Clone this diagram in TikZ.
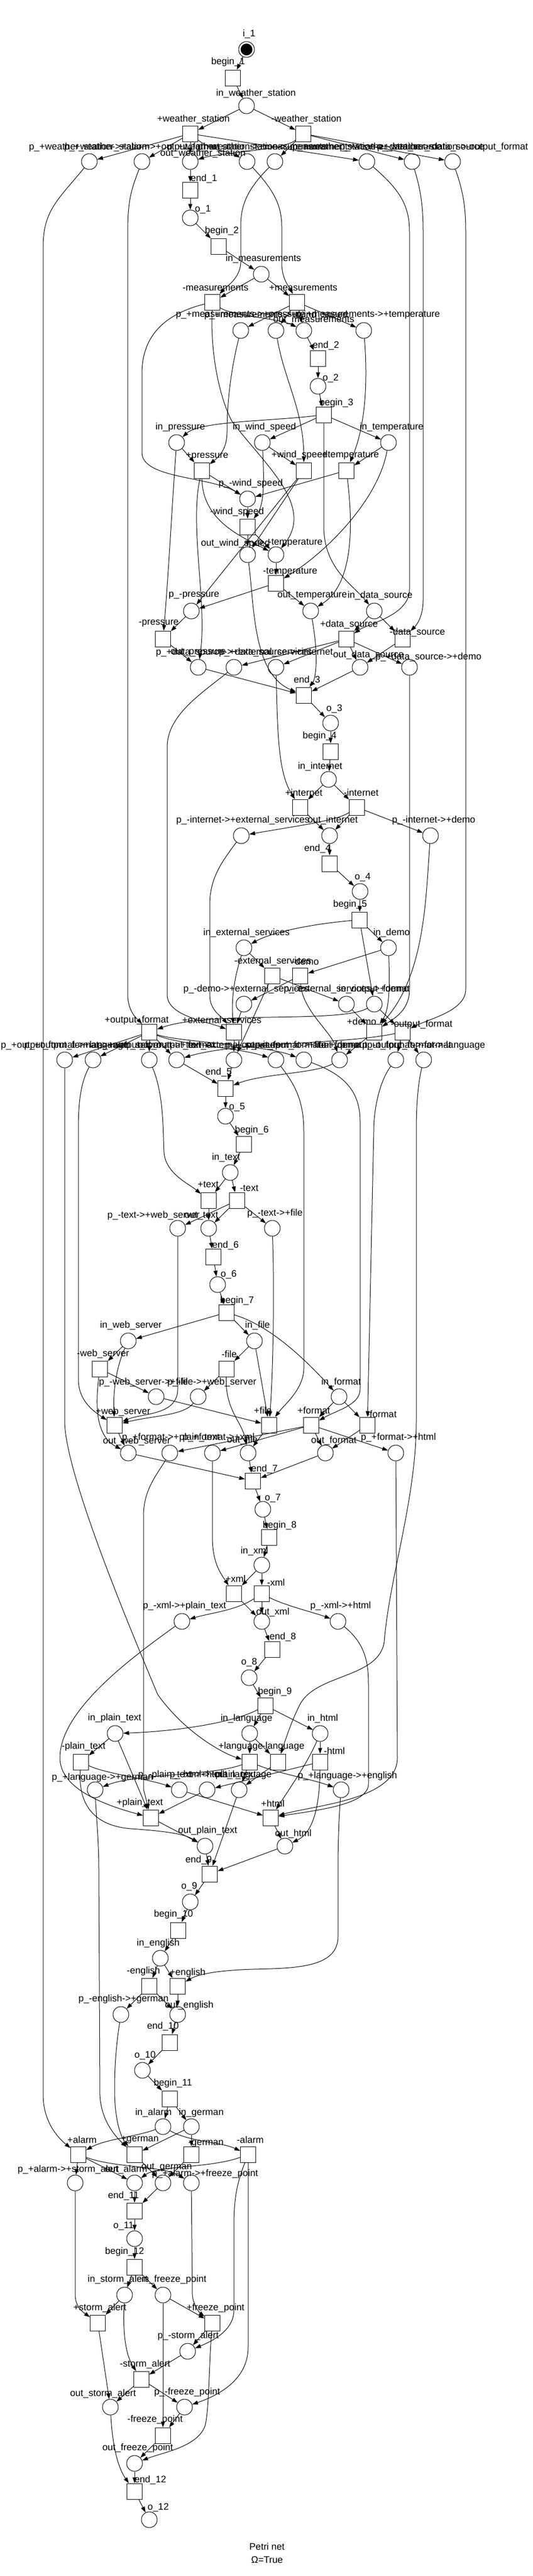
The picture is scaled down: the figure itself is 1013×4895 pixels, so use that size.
\documentclass[tikz,border=0pt]{standalone}
\usepackage{fontspec}
\setmainfont{Liberation Sans}
\usetikzlibrary{arrows.meta}
\tikzset{
  place/.style={circle,draw,line width=0.5pt,minimum size=15pt,inner sep=0pt},
  trans/.style={rectangle,draw,line width=0.5pt,minimum width=14.5pt,minimum height=15pt,inner sep=0pt},
  lbl/.style={font=\fontsize{9}{10}\selectfont,inner sep=0pt},
  flow/.style={draw,line width=0.5pt,-{Triangle[length=5.5pt,width=3.8pt]}},
}
\newcommand{\mkplace}[6]{\node[place] (#1) at (#2,#3) {}; \node[lbl] (#1l) at (#4,#5) {#6};}
\newcommand{\mktrans}[6]{\node[trans] (#1) at (#2,#3) {}; \node[lbl] (#1l) at (#4,#5) {#6};}
\begin{document}
\begin{tikzpicture}[x=0.5pt,y=-0.5pt]
\fill[white] (0,0) rectangle (1013,4895);
\useasboundingbox (0,0) rectangle (1013,4895);
% ---------------- places ----------------
\mkplace{i1}{469}{94}{474}{65}{i\_1}
\fill (i1.center) circle (5.6pt);
\mkplace{inws}{469}{201}{487}{178}{in\_weather\_station}
\mkplace{Pa}{170}{307}{170}{280}{p\_+weather\_station->+alarm}
\mkplace{Pb}{270}{307}{270}{280}{p\_+weather\_station->+output\_format}
\mkplace{outws}{362}{307}{386}{292}{out\_weather\_station}
\mkplace{Pc}{470}{307}{470}{280}{p\_+weather\_station->+measurements}
\mkplace{Pd}{523}{307}{523}{280}{p\_-weather\_station->-measurements}
\mkplace{Pe}{698}{307}{698}{280}{p\_+weather\_station->+data\_source}
\mkplace{Pf}{784}{307}{784}{280}{p\_-weather\_station->-data\_source}
\mkplace{Pg}{861}{307}{861}{280}{p\_-weather\_station->-output\_format}
\mkplace{o1}{362}{414}{386}{398}{o\_1}
\mkplace{inmeas}{497}{521}{501}{492}{in\_measurements}
\mkplace{pmP}{458}{628}{458}{599}{p\_+measurements->+pressure}
\mkplace{pmW}{525}{628}{525}{599}{p\_+measurements->+wind\_speed}
\mkplace{outmeas}{578}{628}{597}{608}{out\_measurements}
\mkplace{pmT}{692}{628}{700}{599}{p\_+measurements->+temperature}
\mkplace{o2}{605}{734}{629}{719}{o\_2}
\mkplace{inpress}{336}{841}{343}{812}{in\_pressure}
\mkplace{inwind}{499}{841}{503}{812}{in\_wind\_speed}
\mkplace{intemp}{739}{841}{745}{812}{in\_temperature}
\mkplace{pmwind}{471}{948}{477}{919}{p\_-wind\_speed}
\mkplace{outwind}{471}{1054}{448}{1033}{out\_wind\_speed}
\mkplace{pmtemp}{525}{1054}{552}{1032}{p\_-temperature}
\mkplace{pmpress}{364}{1161}{369}{1132}{p\_-pressure}
\mkplace{outtemp}{591}{1161}{594}{1132}{out\_temperature}
\mkplace{inds}{712}{1161}{723}{1132}{in\_data\_source}
\mkplace{outpress}{377}{1268}{377}{1240}{out\_pressure}
\mkplace{pdsExt}{445}{1268}{445}{1240}{p\_+data\_source->+external\_services}
\mkplace{pdsInt}{525}{1268}{525}{1240}{p\_+data\_source->+internet}
\mkplace{outds}{685}{1268}{701}{1245}{out\_data\_source}
\mkplace{pdsDemo}{779}{1268}{815}{1249}{p\_+data\_source->+demo}
\mkplace{o3}{629}{1374}{636}{1347}{o\_3}
\mkplace{inint}{625}{1481}{609}{1457}{in\_internet}
\mkplace{pintExt}{459}{1588}{462}{1559}{p\_-internet->+external\_services}
\mkplace{outint}{627}{1588}{633}{1559}{out\_internet}
\mkplace{pintDemo}{819}{1588}{825}{1559}{p\_-internet->+demo}
\mkplace{o4}{685}{1694}{690}{1667}{o\_4}
\mkplace{inext}{464}{1801}{469}{1773}{in\_external\_services}
\mkplace{indemo}{739}{1801}{745}{1773}{in\_demo}
\mkplace{pdemoExt}{464}{1908}{468}{1880}{p\_-demo->+external\_services}
\mkplace{pextDemo}{659}{1908}{659}{1880}{p\_-external\_services->+demo}
\mkplace{inof}{712}{1908}{712}{1880}{in\_output\_format}
\mkplace{qA}{123}{2014}{123}{1987}{p\_+output\_format->+language}
\mkplace{qB}{177}{2014}{177}{1987}{p\_+output\_format->+web\_server}
\mkplace{qC}{284}{2014}{284}{1987}{p\_+output\_format->+text}
\mkplace{qD}{336}{2014}{336}{1987}{out\_output\_format}
\mkplace{qE}{445}{2014}{445}{1987}{out\_external\_services}
\mkplace{qF}{525}{2014}{525}{1987}{p\_+output\_format->+file}
\mkplace{qG}{578}{2014}{578}{1987}{p\_+output\_format->+format}
\mkplace{qH}{646}{2014}{646}{1987}{out\_demo}
\mkplace{qI}{753}{2014}{753}{1987}{p\_-output\_format->-format}
\mkplace{qJ}{806}{2014}{806}{1987}{p\_-output\_format->-language}
\mkplace{o5}{429}{2121}{451}{2104}{o\_5}
\mkplace{intext}{438}{2228}{430}{2200}{in\_text}
\mkplace{ptextWeb}{338}{2334}{292}{2310}{p\_-text->+web\_server}
\mkplace{outtext}{397}{2334}{383}{2310}{out\_text}
\mkplace{ptextFile}{518}{2334}{523}{2306}{p\_-text->+file}
\mkplace{o6}{414}{2441}{435}{2422}{o\_6}
\mkplace{inweb}{244}{2548}{249}{2519}{in\_web\_server}
\mkplace{infile}{484}{2548}{490}{2519}{in\_file}
\mkplace{inform}{645}{2654}{649}{2627}{in\_format}
\mkplace{pwebFile}{297}{2654}{273}{2627}{p\_-web\_server->+file}
\mkplace{pfileWeb}{377}{2654}{403}{2627}{p\_-file->+web\_server}
\mkplace{outweb}{244}{2761}{260}{2739}{out\_web\_server}
\mkplace{pfPlain}{323}{2761}{325}{2732}{p\_+format->+plain\_text}
\mkplace{pfXml}{404}{2761}{416}{2732}{p\_+format->+xml}
\mkplace{outfile}{472}{2761}{461}{2737}{out\_file}
\mkplace{outform}{619}{2761}{635}{2738}{out\_format}
\mkplace{pfHtml}{753}{2761}{758}{2732}{p\_+format->+html}
\mkplace{o7}{500}{2868}{519}{2847}{o\_7}
\mkplace{inxml}{498}{2974}{484}{2948}{in\_xml}
\mkplace{pxPlain}{346}{3081}{351}{3052}{p\_-xml->+plain\_text}
\mkplace{outxml}{498}{3081}{519}{3064}{out\_xml}
\mkplace{pxHtml}{643}{3081}{648}{3052}{p\_-xml->+html}
\mkplace{o8}{474}{3188}{474}{3159}{o\_8}
\mkplace{inplain}{219}{3294}{218}{3265}{in\_plain\_text}
\mkplace{inlang}{475}{3294}{469}{3266}{in\_language}
\mkplace{inhtml}{609}{3294}{614}{3266}{in\_html}
\mkplace{plGerman}{181}{3401}{195}{3378}{p\_+language->+german}
\mkplace{pptHtml}{341}{3401}{345}{3373}{p\_-plain\_text->+html}
\mkplace{phPlain}{394}{3401}{405}{3373}{p\_-html->+plain\_text}
\mkplace{outlang}{455}{3401}{462}{3373}{out\_language}
\mkplace{plEnglish}{649}{3401}{661}{3375}{p\_+language->+english}
\mkplace{outplain}{390}{3508}{395}{3479}{out\_plain\_text}
\mkplace{outhtml}{542}{3508}{558}{3485}{out\_html}
\mkplace{o9}{362}{3614}{360}{3585}{o\_9}
\mkplace{ineng}{305}{3721}{301}{3693}{in\_english}
\mkplace{peGerman}{230}{3828}{235}{3799}{p\_-english->+german}
\mkplace{outeng}{338}{3828}{360}{3811}{out\_english}
\mkplace{o10}{271}{3934}{276}{3906}{o\_10}
\mkplace{inalarm}{310}{4041}{292}{4015}{in\_alarm}
\mkplace{ingerman}{364}{4041}{383}{4015}{in\_german}
\mkplace{paStorm}{143}{4148}{130}{4123}{p\_+alarm->+storm\_alert}
\mkplace{outalarm}{256}{4148}{240}{4123}{out\_alarm}
\mkplace{outgerman}{310}{4148}{317}{4118}{out\_german}
\mkplace{paFreeze}{364}{4148}{390}{4131}{p\_+alarm->+freeze\_point}
\mkplace{o11}{256}{4254}{235}{4230}{o\_11}
\mkplace{instorm}{237}{4361}{224}{4332}{in\_storm\_alert}
\mkplace{infreeze}{310}{4361}{331}{4332}{in\_freeze\_point}
\mkplace{pmStorm}{357}{4468}{358}{4439}{p\_-storm\_alert}
\mkplace{outstorm}{210}{4574}{196}{4549}{out\_storm\_alert}
\mkplace{pmFreeze}{351}{4574}{356}{4546}{p\_-freeze\_point}
\mkplace{outfreeze}{256}{4681}{262}{4652}{out\_freeze\_point}
\mkplace{o12}{284}{4788}{301}{4765}{o\_12}
% ---------------- transitions ----------------
\mktrans{b1}{443}{148}{434}{118}{begin\_1}
\mktrans{tPws}{362}{254}{368}{227}{+weather\_station}
\mktrans{tMws}{577}{254}{583}{227}{-weather\_station}
\mktrans{e1}{362}{361}{388}{340}{end\_1}
\mktrans{b2}{416}{468}{422}{439}{begin\_2}
\mktrans{tMmeas}{404}{574}{410}{547}{-measurements}
\mktrans{tPmeas}{565}{574}{577}{547}{+measurements}
\mktrans{e2}{605}{681}{620}{657}{end\_2}
\mktrans{b3}{616}{788}{640}{766}{begin\_3}
\mktrans{tPpress}{384}{894}{394}{867}{+pressure}
\mktrans{tPwind}{578}{894}{570}{865}{+wind\_speed}
\mktrans{tPtemp}{659}{894}{667}{866}{+temperature}
\mktrans{tMwind}{471}{1001}{451}{973}{-wind\_speed}
\mktrans{tMtemp}{525}{1108}{552}{1087}{-temperature}
\mktrans{tMpress}{310}{1214}{302}{1185}{-pressure}
\mktrans{tPds}{659}{1214}{664}{1187}{+data\_source}
\mktrans{tMds}{766}{1214}{794}{1202}{-data\_source}
\mktrans{e3}{578}{1321}{584}{1293}{end\_3}
\mktrans{b4}{629}{1428}{608}{1399}{begin\_4}
\mktrans{tPint}{571}{1534}{578}{1506}{+internet}
\mktrans{tMint}{679}{1534}{687}{1506}{-internet}
\mktrans{e4}{627}{1641}{604}{1613}{end\_4}
\mktrans{b5}{684}{1748}{666}{1719}{begin\_5}
\mktrans{tMext}{518}{1854}{519}{1827}{-external\_services}
\mktrans{tMdemo}{571}{1854}{581}{1827}{-demo}
\mktrans{tPof}{284}{1961}{260}{1939}{+output\_format}
\mktrans{tPext}{445}{1961}{422}{1940}{+external\_services}
\mktrans{tPdemo}{712}{1961}{688}{1941}{+demo}
\mktrans{tMof}{766}{1961}{802}{1947}{-output\_format}
\mktrans{e5}{429}{2068}{416}{2038}{end\_5}
\mktrans{b6}{464}{2174}{479}{2148}{begin\_6}
\mktrans{tPtext}{397}{2281}{396}{2251}{+text}
\mktrans{tMtext}{451}{2281}{474}{2258}{-text}
\mktrans{e6}{406}{2388}{429}{2367}{end\_6}
\mktrans{b7}{431}{2494}{451}{2472}{begin\_7}
\mktrans{tMweb}{190}{2601}{196}{2573}{-web\_server}
\mktrans{tMfile}{431}{2601}{436}{2573}{-file}
\mktrans{tPweb}{218}{2708}{234}{2683}{+web\_server}
\mktrans{tPfile}{512}{2708}{500}{2680}{+file}
\mktrans{tPform}{592}{2708}{597}{2680}{+format}
\mktrans{tMform}{699}{2708}{726}{2687}{-format}
\mktrans{e7}{481}{2814}{503}{2792}{end\_7}
\mktrans{b8}{512}{2921}{532}{2899}{begin\_8}
\mktrans{tPxml}{445}{3028}{448}{3000}{+xml}
\mktrans{tMxml}{498}{3028}{525}{3007}{-xml}
\mktrans{e8}{518}{3134}{538}{3111}{end\_8}
\mktrans{b9}{505}{3241}{523}{3215}{begin\_9}
\mktrans{tMplain}{154}{3348}{159}{3319}{-plain\_text}
\mktrans{tPlang}{475}{3348}{458}{3319}{+language}
\mktrans{tMlang}{529}{3348}{539}{3319}{-language}
\mktrans{tMhtml}{609}{3348}{636}{3327}{-html}
\mktrans{tPplain}{287}{3454}{266}{3426}{+plain\_text}
\mktrans{tPhtml}{515}{3454}{519}{3427}{+html}
\mktrans{e9}{399}{3561}{378}{3535}{end\_9}
\mktrans{b10}{339}{3668}{330}{3638}{begin\_10}
\mktrans{tMeng}{284}{3774}{273}{3746}{-english}
\mktrans{tPeng}{338}{3774}{357}{3749}{+english}
\mktrans{e10}{323}{3881}{310}{3851}{end\_10}
\mktrans{b11}{323}{3988}{329}{3959}{begin\_11}
\mktrans{tPalarm}{149}{4094}{156}{4066}{+alarm}
\mktrans{tPgerman}{256}{4094}{266}{4066}{+german}
\mktrans{tMgerman}{364}{4094}{392}{4073}{-german}
\mktrans{tMalarm}{472}{4094}{476}{4066}{-alarm}
\mktrans{e11}{256}{4201}{235}{4173}{end\_11}
\mktrans{b12}{256}{4308}{237}{4279}{begin\_12}
\mktrans{tPstorm}{186}{4414}{190}{4386}{+storm\_alert}
\mktrans{tPfreeze}{404}{4414}{410}{4386}{+freeze\_point}
\mktrans{tMstorm}{269}{4521}{276}{4493}{-storm\_alert}
\mktrans{tMfreeze}{310}{4628}{295}{4598}{-freeze\_point}
\mktrans{e12}{256}{4734}{286}{4713}{end\_12}
\node[lbl] (title1) at (508,4839) {Petri net};
\node[lbl] (title2) at (508,4864) {Ω=True};
% ---------------- arcs: weather station ----------------
\draw[flow] (i1) -- (b1);
\draw[flow] (b1) -- (inws);
\draw[flow] (inws) -- (tPws);
\draw[flow] (inws) -- (tMws);
\draw[flow] (tPws) -- (Pa);
\draw[flow] (tPws) -- (Pb);
\draw[flow] (tPws) -- (outws);
\draw[flow] (tPws) .. controls (400,285) and (440,290) .. (Pc);
\draw[flow] (tPws) -- (Pe);
\draw[flow] (tMws) .. controls (540,285) and (420,290) .. (outws);
\draw[flow] (tMws) -- (Pd);
\draw[flow] (tMws) -- (Pf);
\draw[flow] (tMws) -- (Pg);
\draw[flow] (outws) -- (e1);
\draw[flow] (e1) -- (o1);
\draw[flow] (Pa) .. controls (110,380) and (82,400) .. (82,470) -- (82,3980) .. controls (82,4040) and (120,4070) .. (tPalarm);
\draw[flow] (Pb) .. controls (250,360) and (243,380) .. (243,440) -- (243,1890) .. controls (243,1925) and (265,1940) .. (tPof);
\draw[flow] (Pc) .. controls (520,360) and (536,390) .. (536,430) -- (536,500) .. controls (536,530) and (550,545) .. (tPmeas);
\draw[flow] (Pd) .. controls (470,360) and (458,390) .. (458,430) -- (458,500) .. controls (456,530) and (430,545) .. (tMmeas);
\draw[flow] (Pe) .. controls (760,360) and (779,390) .. (779,440) -- (779,1120) .. controls (779,1170) and (700,1185) .. (tPds);
\draw[flow] (Pf) .. controls (800,360) and (805,390) .. (805,440) -- (805,1140) .. controls (805,1180) and (785,1195) .. (tMds);
\draw[flow] (Pg) .. controls (880,360) and (886,390) .. (886,440) -- (886,1880) .. controls (886,1920) and (820,1935) .. (tMof);
% ---------------- measurements ----------------
\draw[flow] (o1) -- (b2);
\draw[flow] (b2) -- (inmeas);
\draw[flow] (inmeas) -- (tMmeas);
\draw[flow] (inmeas) -- (tPmeas);
\draw[flow] (tPmeas) -- (pmP);
\draw[flow] (tPmeas) -- (pmW);
\draw[flow] (tPmeas) -- (outmeas);
\draw[flow] (tPmeas) -- (pmT);
\draw[flow] (tMmeas) .. controls (440,600) and (530,605) .. (outmeas);
\draw[flow] (outmeas) -- (e2);
\draw[flow] (e2) -- (o2);
\draw[flow] (o2) -- (b3);
\draw[flow] (pmP) .. controls (440,700) and (432,760) .. (432,820) .. controls (432,850) and (420,865) .. (tPpress);
\draw[flow] (pmW) .. controls (540,720) and (578,780) .. (tPwind);
\draw[flow] (pmT) .. controls (698,700) and (700,800) .. (tPtemp);
\draw[flow] (tMmeas) .. controls (300,600) and (270,650) .. (270,710) -- (270,860) .. controls (270,910) and (400,905) .. (pmwind);
\draw[flow] (tMmeas) .. controls (400,680) and (420,760) .. (441,800) .. controls (500,880) and (600,960) .. (pmtemp);
% ---------------- pressure / wind / temperature ----------------
\draw[flow] (b3) .. controls (520,800) and (380,800) .. (inpress);
\draw[flow] (b3) -- (inwind);
\draw[flow] (b3) -- (intemp);
\draw[flow] (b3) -- (616,1000) .. controls (616,1080) and (670,1110) .. (inds);
\draw[flow] (inpress) -- (tPpress);
\draw[flow] (inpress) .. controls (328,950) and (320,1100) .. (tMpress);
\draw[flow] (tPpress) -- (pmwind);
\draw[flow] (tPpress) .. controls (385,990) and (460,1020) .. (pmtemp);
\draw[flow] (tPpress) .. controls (360,1000) and (395,1150) .. (outpress);
\draw[flow] (pmpress) -- (tMpress);
\draw[flow] (tMpress) -- (outpress);
\draw[flow] (inwind) -- (tPwind);
\draw[flow] (inwind) .. controls (503,920) and (502,960) .. (tMwind);
\draw[flow] (pmwind) -- (tMwind);
\draw[flow] (tMwind) -- (outwind);
\draw[flow] (tMwind) -- (pmtemp);
\draw[flow] (tPwind) -- (outwind);
\draw[flow] (tPwind) -- (pmpress);
\draw[flow] (intemp) -- (tPtemp);
\draw[flow] (intemp) .. controls (720,950) and (620,1050) .. (tMtemp);
\draw[flow] (tPtemp) -- (pmwind);
\draw[flow] (tPtemp) .. controls (672,1000) and (672,1110) .. (outtemp);
\draw[flow] (pmtemp) -- (tMtemp);
\draw[flow] (tMtemp) -- (outtemp);
\draw[flow] (tMtemp) -- (pmpress);
% ---------------- data source ----------------
\draw[flow] (inds) -- (tPds);
\draw[flow] (inds) -- (tMds);
\draw[flow] (tPds) -- (pdsExt);
\draw[flow] (tPds) -- (pdsInt);
\draw[flow] (tPds) -- (outds);
\draw[flow] (tPds) -- (pdsDemo);
\draw[flow] (tMds) -- (outds);
\draw[flow] (outpress) -- (e3);
\draw[flow] (outds) -- (e3);
\draw[flow] (outwind) .. controls (484,1150) and (480,1280) .. (e3);
\draw[flow] (outtemp) .. controls (607,1250) and (600,1290) .. (e3);
\draw[flow] (e3) -- (o3);
\draw[flow] (o3) -- (b4);
\draw[flow] (b4) -- (inint);
% ---------------- internet ----------------
\draw[flow] (inint) -- (tPint);
\draw[flow] (inint) -- (tMint);
\draw[flow] (pdsInt) .. controls (528,1400) and (530,1470) .. (tPint);
\draw[flow] (tPint) -- (outint);
\draw[flow] (tMint) -- (outint);
\draw[flow] (tMint) .. controls (640,1560) and (560,1570) .. (pintExt);
\draw[flow] (tMint) -- (pintDemo);
\draw[flow] (outint) -- (e4);
\draw[flow] (e4) -- (o4);
\draw[flow] (o4) -- (b5);
% ---------------- external services / demo ----------------
\draw[flow] (b5) .. controls (600,1755) and (520,1770) .. (inext);
\draw[flow] (b5) -- (indemo);
\draw[flow] (b5) -- (inof);
\draw[flow] (inext) -- (tMext);
\draw[flow] (inext) .. controls (445,1860) and (440,1900) .. (tPext);
\draw[flow] (indemo) -- (tMdemo);
\draw[flow] (indemo) .. controls (742,1880) and (740,1920) .. (tPdemo);
\draw[flow] (tMext) -- (pextDemo);
\draw[flow] (tMdemo) -- (pdemoExt);
\draw[flow] (tMext) -- (qE);
\draw[flow] (tMdemo) .. controls (575,1920) and (630,1960) .. (qH);
\draw[flow] (pdsExt) .. controls (380,1320) and (318,1360) .. (318,1420) -- (318,1890) .. controls (318,1930) and (390,1940) .. (tPext);
\draw[flow] (pintExt) .. controls (420,1640) and (399,1670) .. (399,1720) -- (399,1890) .. controls (399,1920) and (420,1930) .. (tPext);
\draw[flow] (pdemoExt) -- (tPext);
\draw[flow] (pdsDemo) -- (779,1880) .. controls (779,1920) and (750,1935) .. (tPdemo);
\draw[flow] (pintDemo) .. controls (810,1700) and (810,1850) .. (tPdemo);
\draw[flow] (pextDemo) -- (tPdemo);
% ---------------- output format ----------------
\draw[flow] (inof) .. controls (650,1945) and (400,1920) .. (tPof);
\draw[flow] (inof) -- (tMof);
\draw[flow] (tPof) -- (qA);
\draw[flow] (tPof) -- (qB);
\draw[flow] (tPof) -- (qC);
\draw[flow] (tPof) -- (qD);
\draw[flow] (tPof) .. controls (340,1985) and (450,1990) .. (qF);
\draw[flow] (tPof) .. controls (340,1980) and (500,1985) .. (qG);
\draw[flow] (tMof) .. controls (650,1985) and (450,1980) .. (qD);
\draw[flow] (tMof) -- (qI);
\draw[flow] (tMof) -- (qJ);
\draw[flow] (tPext) -- (qE);
\draw[flow] (tPdemo) -- (qH);
\draw[flow] (qD) -- (e5);
\draw[flow] (qE) -- (e5);
\draw[flow] (qH) .. controls (600,2040) and (500,2040) .. (e5);
\draw[flow] (e5) -- (o5);
\draw[flow] (o5) -- (b6);
\draw[flow] (b6) -- (intext);
% ---------------- text ----------------
\draw[flow] (intext) -- (tPtext);
\draw[flow] (intext) -- (tMtext);
\draw[flow] (qC) .. controls (312,2080) and (310,2150) .. (312,2190) .. controls (315,2230) and (360,2250) .. (tPtext);
\draw[flow] (tPtext) -- (outtext);
\draw[flow] (tMtext) -- (outtext);
\draw[flow] (tMtext) -- (ptextWeb);
\draw[flow] (tMtext) -- (ptextFile);
\draw[flow] (outtext) -- (e6);
\draw[flow] (e6) -- (o6);
\draw[flow] (o6) -- (b7);
% ---------------- web server / file / format ----------------
\draw[flow] (b7) -- (inweb);
\draw[flow] (b7) -- (infile);
\draw[flow] (b7) .. controls (500,2515) and (560,2560) .. (inform);
\draw[flow] (inweb) -- (tMweb);
\draw[flow] (inweb) .. controls (220,2600) and (215,2650) .. (tPweb);
\draw[flow] (infile) -- (tMfile);
\draw[flow] (infile) -- (tPfile);
\draw[flow] (tMweb) -- (pwebFile);
\draw[flow] (tMweb) .. controls (180,2680) and (185,2730) .. (outweb);
\draw[flow] (tMfile) -- (pfileWeb);
\draw[flow] (tMfile) .. controls (428,2680) and (460,2700) .. (outfile);
\draw[flow] (ptextWeb) -- (338,2640) .. controls (338,2690) and (270,2685) .. (tPweb);
\draw[flow] (pfileWeb) .. controls (350,2690) and (290,2690) .. (tPweb);
\draw[flow] (qB) .. controls (152,2060) and (149,2100) .. (149,2150) -- (149,2620) .. controls (149,2660) and (175,2680) .. (tPweb);
\draw[flow] (tPweb) -- (outweb);
\draw[flow] (pwebFile) -- (tPfile);
\draw[flow] (ptextFile) .. controls (522,2450) and (520,2600) .. (tPfile);
\draw[flow] (qF) .. controls (560,2060) and (578,2090) .. (578,2150) -- (578,2600) .. controls (578,2640) and (540,2670) .. (tPfile);
\draw[flow] (tPfile) -- (outfile);
\draw[flow] (inform) -- (tPform);
\draw[flow] (inform) -- (tMform);
\draw[flow] (qG) .. controls (650,2040) and (685,2070) .. (685,2130) -- (685,2640) .. controls (685,2670) and (640,2680) .. (tPform);
\draw[flow] (qI) .. controls (725,2050) and (711,2100) .. (711,2150) -- (tMform);
\draw[flow] (tPform) -- (pfPlain);
\draw[flow] (tPform) -- (pfXml);
\draw[flow] (tPform) -- (outform);
\draw[flow] (tPform) -- (pfHtml);
\draw[flow] (tMform) -- (outform);
\draw[flow] (outweb) -- (e7);
\draw[flow] (outfile) -- (e7);
\draw[flow] (outform) -- (e7);
\draw[flow] (e7) -- (o7);
\draw[flow] (o7) -- (b8);
\draw[flow] (b8) -- (inxml);
% ---------------- xml ----------------
\draw[flow] (inxml) -- (tPxml);
\draw[flow] (inxml) -- (tMxml);
\draw[flow] (pfXml) -- (404,2920) .. controls (404,2970) and (420,2990) .. (tPxml);
\draw[flow] (tPxml) -- (outxml);
\draw[flow] (tMxml) -- (outxml);
\draw[flow] (tMxml) .. controls (450,3060) and (400,3065) .. (pxPlain);
\draw[flow] (tMxml) .. controls (540,3050) and (600,3065) .. (pxHtml);
\draw[flow] (outxml) -- (e8);
\draw[flow] (e8) -- (o8);
\draw[flow] (o8) -- (b9);
% ---------------- plain text / language / html ----------------
\draw[flow] (b9) .. controls (440,3275) and (330,3290) .. (inplain);
\draw[flow] (b9) -- (inlang);
\draw[flow] (b9) -- (inhtml);
\draw[flow] (inplain) -- (tMplain);
\draw[flow] (inplain) -- (tPplain);
\draw[flow] (inlang) -- (tPlang);
\draw[flow] (inlang) -- (tMlang);
\draw[flow] (inhtml) -- (tMhtml);
\draw[flow] (inhtml) .. controls (585,3350) and (550,3400) .. (tPhtml);
\draw[flow] (pfPlain) .. controls (300,2800) and (273,2830) .. (273,2880) -- (273,3400) -- (tPplain);
\draw[flow] (pxPlain) .. controls (250,3150) and (114,3250) .. (114,3340) .. controls (114,3400) and (200,3430) .. (tPplain);
\draw[flow] (phPlain) -- (tPplain);
\draw[flow] (pfHtml) -- (756,3340) .. controls (756,3420) and (600,3430) .. (tPhtml);
\draw[flow] (pxHtml) .. controls (690,3120) and (701,3150) .. (701,3200) -- (701,3390) .. controls (701,3430) and (600,3440) .. (tPhtml);
\draw[flow] (pptHtml) -- (tPhtml);
\draw[flow] (qA) -- (123,2700) .. controls (123,2800) and (250,3100) .. (300,3220) .. controls (350,3290) and (420,3330) .. (tPlang);
\draw[flow] (qJ) .. controls (795,2060) and (792,2100) .. (792,2150) -- (792,2700) .. controls (792,2850) and (740,3000) .. (731,3120) .. controls (720,3190) and (600,3180) .. (570,3240) .. controls (555,3270) and (545,3300) .. (tMlang);
\draw[flow] (tMplain) .. controls (200,3370) and (280,3380) .. (pptHtml);
\draw[flow] (tMplain) .. controls (148,3430) and (180,3470) .. (250,3475) .. controls (320,3480) and (350,3485) .. (outplain);
\draw[flow] (tMhtml) -- (phPlain);
\draw[flow] (tMhtml) .. controls (608,3420) and (600,3480) .. (outhtml);
\draw[flow] (tPlang) .. controls (400,3375) and (260,3370) .. (plGerman);
\draw[flow] (tPlang) .. controls (530,3370) and (590,3380) .. (plEnglish);
\draw[flow] (tPlang) -- (outlang);
\draw[flow] (tMlang) -- (outlang);
\draw[flow] (tPplain) -- (outplain);
\draw[flow] (tPhtml) -- (outhtml);
\draw[flow] (outplain) -- (e9);
\draw[flow] (outhtml) -- (e9);
\draw[flow] (outlang) -- (e9);
\draw[flow] (e9) -- (o9);
\draw[flow] (o9) -- (b10);
\draw[flow] (b10) -- (ineng);
% ---------------- english ----------------
\draw[flow] (ineng) -- (tMeng);
\draw[flow] (ineng) -- (tPeng);
\draw[flow] (plEnglish) .. controls (645,3450) and (643,3500) .. (643,3550) -- (643,3680) .. controls (643,3740) and (560,3740) .. (480,3742) .. controls (420,3744) and (380,3750) .. (tPeng);
\draw[flow] (tMeng) -- (peGerman);
\draw[flow] (tMeng) -- (outeng);
\draw[flow] (tPeng) -- (outeng);
\draw[flow] (outeng) -- (e10);
\draw[flow] (e10) -- (o10);
\draw[flow] (o10) -- (b11);
% ---------------- alarm / german ----------------
\draw[flow] (b11) -- (inalarm);
\draw[flow] (b11) -- (ingerman);
\draw[flow] (inalarm) .. controls (260,4060) and (200,4065) .. (tPalarm);
\draw[flow] (inalarm) .. controls (360,4070) and (420,4070) .. (tMalarm);
\draw[flow] (ingerman) -- (tPgerman);
\draw[flow] (ingerman) -- (tMgerman);
\draw[flow] (plGerman) .. controls (183,3450) and (188,3500) .. (188,3550) -- (190,3980) .. controls (192,4030) and (220,4060) .. (tPgerman);
\draw[flow] (peGerman) .. controls (222,3880) and (218,3920) .. (218,3970) .. controls (218,4030) and (230,4060) .. (tPgerman);
\draw[flow] (tPalarm) -- (paStorm);
\draw[flow] (tPalarm) -- (outalarm);
\draw[flow] (tPalarm) .. controls (220,4120) and (310,4115) .. (paFreeze);
\draw[flow] (tMalarm) .. controls (400,4120) and (300,4115) .. (outalarm);
\draw[flow] (tMalarm) .. controls (450,4150) and (445,4180) .. (445,4230) -- (445,4390) .. controls (445,4430) and (400,4450) .. (pmStorm);
\draw[flow] (tMalarm) -- (472,4460) .. controls (472,4520) and (420,4550) .. (pmFreeze);
\draw[flow] (tPgerman) -- (outgerman);
\draw[flow] (tMgerman) -- (outgerman);
\draw[flow] (outalarm) -- (e11);
\draw[flow] (outgerman) -- (e11);
\draw[flow] (e11) -- (o11);
\draw[flow] (o11) -- (b12);
% ---------------- storm alert / freeze point ----------------
\draw[flow] (b12) -- (instorm);
\draw[flow] (b12) -- (infreeze);
\draw[flow] (instorm) -- (tPstorm);
\draw[flow] (instorm) .. controls (234,4420) and (236,4470) .. (tMstorm);
\draw[flow] (infreeze) -- (tPfreeze);
\draw[flow] (infreeze) -- (tMfreeze);
\draw[flow] (paStorm) -- (143,4360) .. controls (143,4385) and (160,4395) .. (tPstorm);
\draw[flow] (paFreeze) -- (366,4360) .. controls (367,4380) and (380,4395) .. (tPfreeze);
\draw[flow] (tPstorm) -- (outstorm);
\draw[flow] (tPfreeze) -- (pmStorm);
\draw[flow] (tPfreeze) .. controls (397,4500) and (398,4580) .. (390,4610) .. controls (375,4650) and (310,4660) .. (outfreeze);
\draw[flow] (pmStorm) -- (tMstorm);
\draw[flow] (tMstorm) -- (outstorm);
\draw[flow] (tMstorm) -- (pmFreeze);
\draw[flow] (pmFreeze) -- (tMfreeze);
\draw[flow] (tMfreeze) -- (outfreeze);
\draw[flow] (outstorm) .. controls (214,4650) and (225,4690) .. (e12);
\draw[flow] (outfreeze) -- (e12);
\draw[flow] (e12) -- (o12);
\end{tikzpicture}
\end{document}
